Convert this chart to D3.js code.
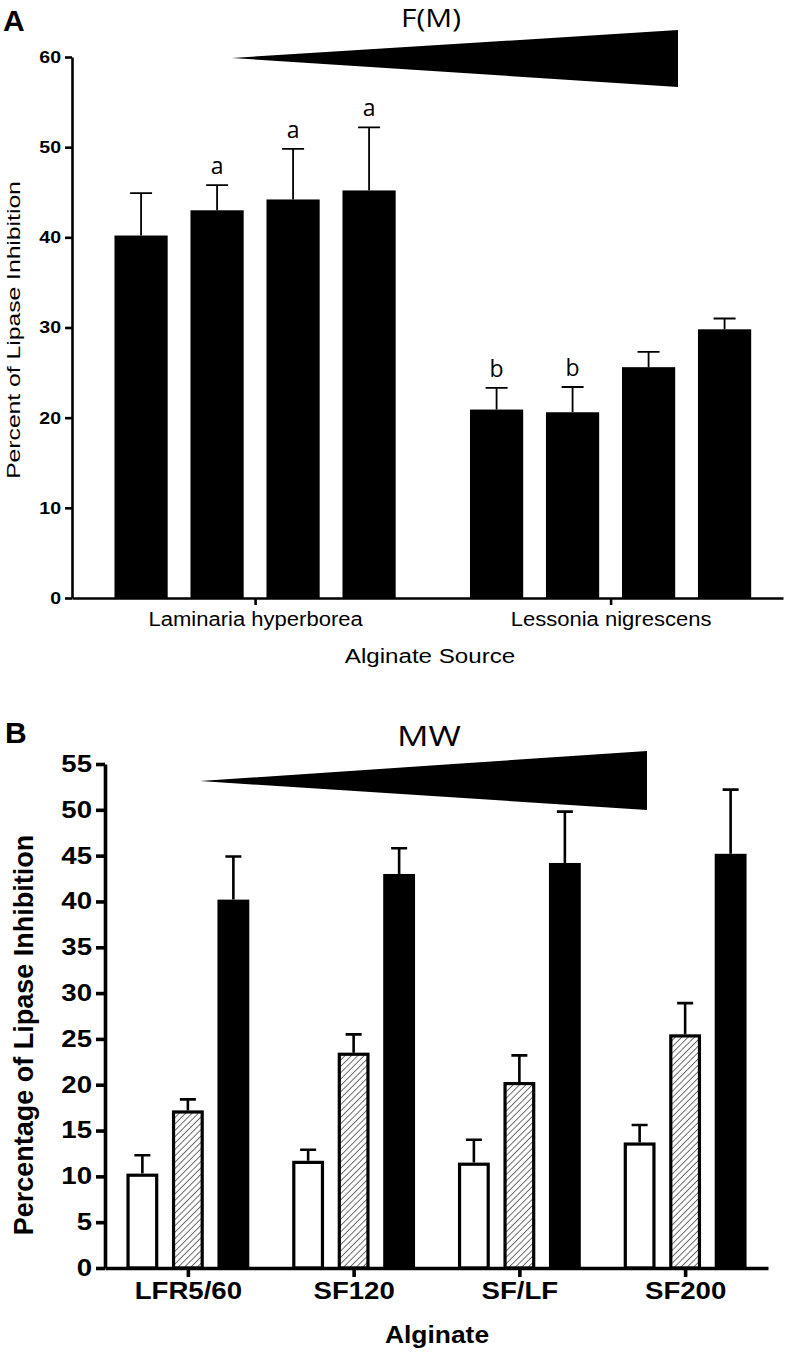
<!DOCTYPE html>
<html><head><meta charset="utf-8">
<script src="https://cdn.jsdelivr.net/npm/d3@7"></script>
<style>body{margin:0;background:#fff}svg{display:block}</style>
</head><body>
<svg id="c" width="787" height="1354"></svg>
<script>
// ---------- Panel A data ----------
const groupsA = ["Laminaria hyperborea", "Lessonia nigrescens"];
const seriesA = ["s1", "s2", "s3", "s4"];
const laminariaMean = [40.2, 43.0, 44.2, 45.2];
const laminariaErrTop = [44.9, 45.8, 49.8, 52.2];
const lessoniaMean = [20.9, 20.6, 25.6, 29.8];
const lessoniaErrTop = [23.3, 23.4, 27.3, 31.0];
const laminariaLetters = ["", "a", "a", "a"];
const lessoniaLetters = ["b", "b", "", ""];
const ticksA = [0, 10, 20, 30, 40, 50, 60];

// ---------- Panel B data ----------
const alginates = ["LFR5/60", "SF120", "SF/LF", "SF200"];
const seriesB = ["low", "mid", "high"];
const lowMean = [10.3, 11.7, 11.5, 13.7];
const lowErrTop = [12.3, 12.9, 14.0, 15.6];
const midMean = [17.2, 23.5, 20.3, 25.5];
const midErrTop = [18.4, 25.5, 23.2, 28.9];
const highMean = [40.2, 43.0, 44.2, 45.2];
const highErrTop = [44.9, 45.8, 49.8, 52.2];
const ticksB = [0, 5, 10, 15, 20, 25, 30, 35, 40, 45, 50, 55];

const svg = d3.select("#c");
const FONT = "'Liberation Sans', Arial, sans-serif";
const FONT2 = "'Open Sans', 'Noto Sans', sans-serif";

// stretched text helper: (x,y) anchor, sx horizontal stretch, rot rotation
function label(g, txt, x, y, opt) {
  const o = Object.assign({ size: 16, weight: "normal", anchor: "middle", sx: 1, rot: 0, family: FONT }, opt);
  return g.append("text")
    .attr("transform", `translate(${x},${y}) rotate(${o.rot}) scale(${o.sx},1)`)
    .attr("text-anchor", o.anchor).attr("font-family", o.family)
    .attr("font-weight", o.weight).attr("font-size", o.size).attr("fill", "#000").text(txt);
}

// ================= Panel A =================
(function () {
  const left = 72, right = 783, top = 57, bottom = 598;
  const y = d3.scaleLinear().domain([0, 60]).range([bottom, top]);
  const x0 = d3.scalePoint().domain(groupsA).range([left, right]).padding(0.5).align(0.515);
  const x1 = d3.scaleBand().domain(seriesA).range([-152, 152]).paddingInner(0.3).paddingOuter(0.15);
  const g = svg.append("g");

  const data = [];
  groupsA.forEach((grp, gi) => {
    const m = gi === 0 ? laminariaMean : lessoniaMean;
    const e = gi === 0 ? laminariaErrTop : lessoniaErrTop;
    const l = gi === 0 ? laminariaLetters : lessoniaLetters;
    seriesA.forEach((s, si) => data.push({ grp, s, mean: m[si], err: e[si], letter: l[si] }));
  });
  const cx = d => x0(d.grp) + x1(d.s) + x1.bandwidth() / 2;

  g.selectAll(".eb").data(data).enter().append("path")
    .attr("d", d => `M${cx(d)},${y(d.mean)}V${y(d.err)}M${cx(d) - 11},${y(d.err)}H${cx(d) + 11}`)
    .attr("stroke", "#000").attr("stroke-width", 1.8).attr("fill", "none");
  g.selectAll(".bar").data(data).enter().append("rect")
    .attr("x", d => x0(d.grp) + x1(d.s)).attr("width", x1.bandwidth())
    .attr("y", d => y(d.mean)).attr("height", d => y(0) - y(d.mean))
    .attr("fill", "#000");
  data.filter(d => d.letter).forEach(d =>
    label(g, d.letter, cx(d), y(d.err) - 11, { size: 23, family: FONT2 }));

  const tsA = 7, tpA = 4, sxA = 1.15;
  const ya = g.append("g").attr("transform", `translate(${left},0)`)
    .call(d3.axisLeft(y).tickValues(ticksA).tickSize(tsA).tickSizeOuter(0).tickPadding(tpA));
  const xa = g.append("g").attr("transform", `translate(0,${bottom})`)
    .call(d3.axisBottom(x0).tickSize(7).tickSizeOuter(0).tickPadding(7));
  [ya, xa].forEach(a => {
    a.select(".domain").attr("stroke-width", 2.6);
    a.selectAll(".tick line").attr("stroke-width", 2.6);
  });
  ya.selectAll("text").attr("font-family", FONT).attr("font-weight", "bold").attr("font-size", 17)
    .attr("fill", "#000").attr("x", -(tsA + tpA) / sxA).attr("transform", `scale(${sxA},1)`);
  xa.selectAll("text").attr("font-family", FONT).attr("font-size", 19.5).attr("fill", "#000")
    .attr("transform", "scale(1.13,1)");

  label(g, "Percent of Lipase Inhibition", 20, 330, { size: 19, rot: -90, sx: 1.3 });
  label(g, "Alginate Source", 430, 663, { size: 21, sx: 1.15 });
  label(g, "A", 3, 31, { size: 30, weight: "bold", anchor: "start" });
  g.append("path").attr("d", d3.line()([[232, 58], [678, 30], [678, 87]]) + "Z").attr("fill", "#000");
  label(g, "F(M)", 431, 27, { size: 26, family: FONT2, sx: 1.15 });
})();

// ================= Panel B =================
(function () {
  const left = 105, right = 768, top = 764, bottom = 1268;
  const y = d3.scaleLinear().domain([0, 55]).range([bottom, top]);
  const x0 = d3.scalePoint().domain(alginates).range([left, right]).padding(0.5).align(0.5);
  const x1 = d3.scaleBand().domain(seriesB).range([-68.25, 68.25]).paddingInner(0.3).paddingOuter(0.15);
  const g = svg.append("g");

  const defs = svg.append("defs");
  const pat = defs.append("pattern").attr("id", "hatch").attr("patternUnits", "userSpaceOnUse")
    .attr("width", 4.5).attr("height", 4.5).attr("patternTransform", "rotate(45)");
  pat.append("rect").attr("width", 4.5).attr("height", 4.5).attr("fill", "#fff");
  pat.append("line").attr("x1", 0).attr("y1", 0).attr("x2", 0).attr("y2", 4.5)
    .attr("stroke", "#111").attr("stroke-width", 1.2);

  const means = { low: lowMean, mid: midMean, high: highMean };
  const errs = { low: lowErrTop, mid: midErrTop, high: highErrTop };
  const data = [];
  alginates.forEach((a, ai) => seriesB.forEach(s => data.push({ a, s, mean: means[s][ai], err: errs[s][ai] })));
  const cx = d => x0(d.a) + x1(d.s) + x1.bandwidth() / 2;
  const sw = 3.2;

  g.selectAll(".eb").data(data).enter().append("path")
    .attr("d", d => `M${cx(d)},${y(d.mean)}V${y(d.err)}M${cx(d) - 8},${y(d.err)}H${cx(d) + 8}`)
    .attr("stroke", "#000").attr("stroke-width", 2.6).attr("fill", "none");
  g.selectAll(".bar").data(data).enter().append("rect")
    .attr("x", d => x0(d.a) + x1(d.s) + (d.s === "high" ? 0 : sw / 2))
    .attr("width", d => x1.bandwidth() - (d.s === "high" ? 0 : sw))
    .attr("y", d => y(d.mean) + (d.s === "high" ? 0 : sw / 2))
    .attr("height", d => y(0) - y(d.mean) - (d.s === "high" ? 0 : sw / 2))
    .attr("fill", d => d.s === "high" ? "#000" : d.s === "mid" ? "url(#hatch)" : "#fff")
    .attr("stroke", d => d.s === "high" ? "none" : "#000").attr("stroke-width", sw);

  const tsB = 9, tpB = 4, sxB = 1.2;
  const ya = g.append("g").attr("transform", `translate(${left},0)`)
    .call(d3.axisLeft(y).tickValues(ticksB).tickSize(tsB).tickSizeOuter(0).tickPadding(tpB));
  const xa = g.append("g").attr("transform", `translate(0,${bottom})`)
    .call(d3.axisBottom(x0).tickSize(9).tickSizeOuter(0).tickPadding(6));
  [ya, xa].forEach(a => {
    a.select(".domain").attr("stroke-width", 3.6);
    a.selectAll(".tick line").attr("stroke-width", 3.6);
  });
  ya.selectAll("text").attr("font-family", FONT).attr("font-weight", "bold").attr("font-size", 23)
    .attr("fill", "#000").attr("x", -(tsB + tpB) / sxB).attr("transform", `scale(${sxB},1)`);
  xa.selectAll("text").attr("font-family", FONT).attr("font-weight", "bold").attr("font-size", 23)
    .attr("fill", "#000").attr("transform", "scale(1.2,1)");

  label(g, "Percentage of Lipase Inhibition", 33, 1035, { size: 27, weight: "bold", rot: -90 });
  label(g, "Alginate", 437, 1343, { size: 24, weight: "bold", sx: 1.1 });
  label(g, "B", 5, 743, { size: 30, weight: "bold", anchor: "start" });
  g.append("path").attr("d", d3.line()([[200, 781], [647, 751], [647, 810]]) + "Z").attr("fill", "#000");
  label(g, "MW", 429, 746, { size: 27, family: FONT2, sx: 1.3 });
})();
</script>
</body></html>
